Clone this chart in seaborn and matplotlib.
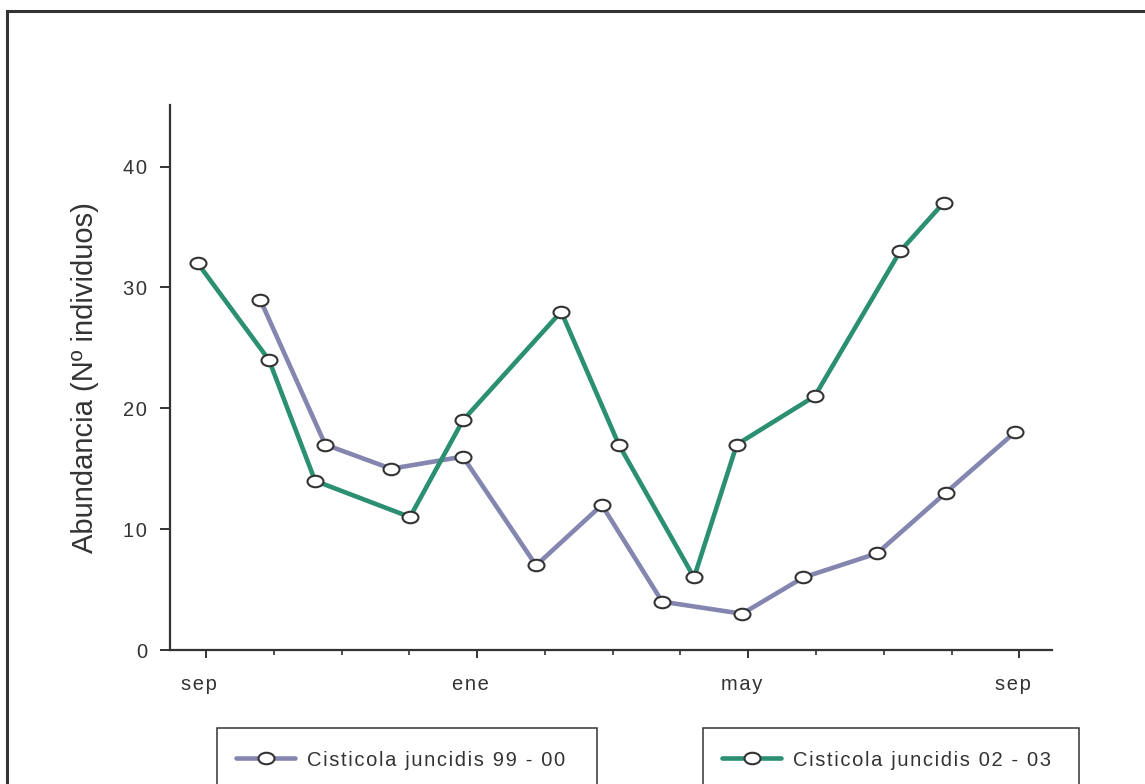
import numpy as np
import pandas as pd
import matplotlib
matplotlib.use("Agg")
import matplotlib.pyplot as plt
from matplotlib.path import Path
from matplotlib.transforms import Affine2D, ScaledTranslation
from matplotlib.patches import Rectangle
from matplotlib.ticker import MultipleLocator, FixedLocator
import seaborn as sns

# Month positions counted from September (0) to the next September (12)
months_9900 = [0.80, 1.76, 2.73, 3.79, 4.87, 5.84, 6.73, 7.91, 8.81, 9.90, 10.91, 11.93]
abund_9900 = [29, 17, 15, 16, 7, 12, 4, 3, 6, 8, 13, 18]

months_0203 = [-0.12, 0.93, 1.61, 3.01, 3.79, 5.24, 6.09, 7.20, 7.83, 8.98, 10.24, 10.88]
abund_0203 = [32, 24, 14, 11, 19, 28, 17, 6, 17, 21, 33, 37]

series_names = ["Cisticola juncidis 99 - 00", "Cisticola juncidis 02 - 03"]
month_ticks = [0, 4, 8, 12]
month_labels = ["sep", "ene", "may", "sep"]
y_ticks = [0, 10, 20, 30, 40]

sns.set_style("ticks")
plt.rcParams["font.family"] = ["Liberation Sans", "DejaVu Sans"]

INK = "#333333"
COL_9900 = "#8486b0"
COL_0203 = "#2b8f72"
HAIR = "\u200a"


def spaced(text, n=1):
    """Open up the letter spacing with hair spaces."""
    return (HAIR * n).join(text)


W, H = 1145, 784
fig = plt.figure(figsize=(W / 100, H / 100), dpi=100)
ax = fig.add_axes([170 / W, 1 - 650 / H, (1052 - 170) / W, (650 - 105) / H])

# oval open-circle marker
oval = Path.unit_circle().transformed(Affine2D().scale(1.0, 0.72))

df1 = pd.DataFrame({"mes": months_9900, "abundancia": abund_9900})
df2 = pd.DataFrame({"mes": months_0203, "abundancia": abund_0203})

common = dict(marker=oval, markersize=11.5, markerfacecolor="white",
              markeredgecolor=INK, markeredgewidth=1.5, linewidth=3.3)
sns.lineplot(data=df1, x="mes", y="abundancia", ax=ax, color=COL_9900,
             label=series_names[0], legend=False, **common)
sns.lineplot(data=df2, x="mes", y="abundancia", ax=ax, color=COL_0203,
             label=series_names[1], legend=False, **common)

ax.set_xlim(-0.53, 12.48)
ax.set_ylim(0, 45.1)

ax.xaxis.set_major_locator(FixedLocator(month_ticks))
ax.set_xticklabels([spaced(m, 1) for m in month_labels])
ax.xaxis.set_minor_locator(MultipleLocator(1))
ax.yaxis.set_major_locator(FixedLocator(y_ticks))
ax.set_yticklabels([spaced(str(v), 1) for v in y_ticks])

for s in ["top", "right"]:
    ax.spines[s].set_visible(False)
for s in ["left", "bottom"]:
    ax.spines[s].set_color(INK)
    ax.spines[s].set_linewidth(1.6)

ax.tick_params(axis="y", which="major", length=7, width=1.4, color=INK,
               labelsize=14.5, labelcolor=INK, pad=9.5, direction="out")
ax.tick_params(axis="x", which="major", length=6, width=1.4, color=INK,
               labelsize=14.5, labelcolor=INK, pad=12, direction="out")
ax.tick_params(axis="x", which="minor", length=3.5, width=1.2, color=INK,
               direction="out")

# month names sit slightly left of their ticks
shift = ScaledTranslation(-7 / 100, 0, fig.dpi_scale_trans)
for lab in ax.get_xticklabels():
    lab.set_transform(lab.get_transform() + shift)

ax.set_xlabel("")
ax.set_ylabel("Abundancia (Nº individuos)", fontsize=21, color=INK, labelpad=17.5)

# outer frame around the figure
fig.add_artist(Rectangle((7 / W, -0.1), 1.2, 1 - 11 / H + 0.1,
                         transform=fig.transFigure, fill=False,
                         edgecolor=INK, linewidth=2.2, clip_on=False))

# one boxed legend per series
lines = ax.get_lines()
boxes = [(217, 597), (703, 1079)]
for line, name, (x0, x1) in zip(lines, series_names, boxes):
    fig.add_artist(Rectangle((x0 / W, -0.1), (x1 - x0) / W, 1 - 728 / H + 0.1,
                             transform=fig.transFigure, fill=False,
                             edgecolor=INK, linewidth=1.1, clip_on=False))
    leg = fig.legend([line], [spaced(name, 1)], loc="center left",
                     bbox_to_anchor=((x0 + 19) / W, 1 - 760 / H),
                     frameon=False, fontsize=14.5, handlelength=2.95,
                     handletextpad=0.6, borderpad=0, borderaxespad=0)
    for t in leg.get_texts():
        t.set_color(INK)

fig.savefig("out.png", dpi=100)
